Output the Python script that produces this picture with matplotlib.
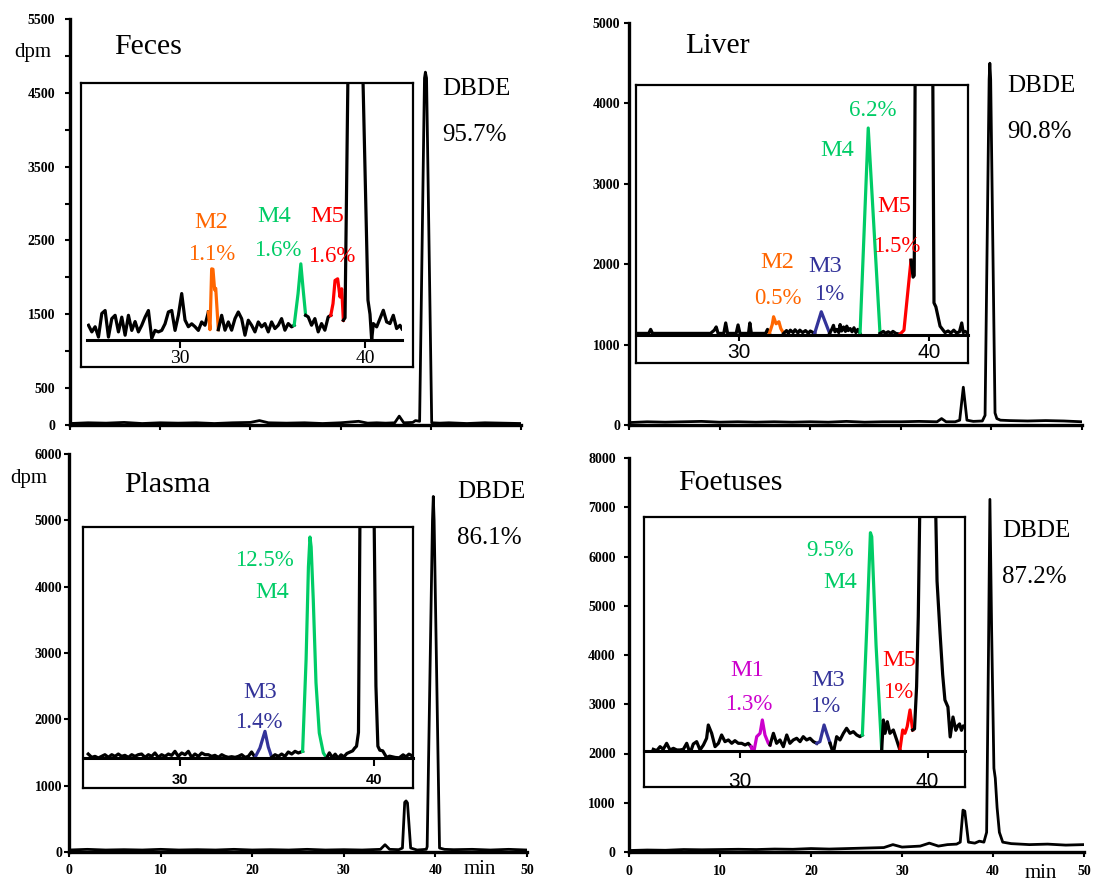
import matplotlib
matplotlib.use('Agg')
import matplotlib.pyplot as plt

W, H = 1094, 881
SERIF = 'Liberation Serif'
SANS = 'Liberation Sans'
ORANGE, GREEN, RED, BLUE, MAGENTA = '#ff6600', '#00cc66', '#ff0000', '#333399', '#cc00cc'

# ---- full chromatograms: time (min) and activity (dpm) ----
feces_t = [0, 2, 4, 6, 8, 10, 12, 14, 16, 18, 20, 21, 22, 24, 26, 28, 30, 31, 32, 33,
           34, 35, 36, 36.5, 37, 38, 38.3, 38.76, 39.3, 39.4, 39.53, 40.1, 41, 42, 44, 46, 48, 50]
feces_dpm = [20, 30, 25, 35, 20, 30, 25, 30, 20, 30, 35, 60, 30, 25, 30, 20, 30, 40, 50, 25,
             30, 25, 30, 120, 30, 35, 60, 50, 4700, 4780, 4700, 30, 25, 30, 20, 30, 25, 20]

liver_t = [0, 2, 4, 6, 8, 10, 12, 14, 16, 18, 20, 22, 24, 26, 28, 30, 32, 34, 34.5, 35,
           36, 36.5, 36.9, 37.3, 38, 39, 39.3, 39.75, 39.83, 39.92, 40.4, 40.6, 41, 42, 44, 46, 48, 50]
liver_dpm = [30, 40, 35, 40, 45, 35, 40, 35, 40, 35, 40, 35, 45, 35, 40, 40, 45, 40, 80, 40,
             40, 60, 470, 60, 45, 50, 120, 4300, 4500, 4300, 150, 80, 60, 55, 50, 55, 50, 40]

plasma_t = [0, 2, 4, 6, 8, 10, 12, 14, 16, 18, 20, 22, 24, 26, 28, 30, 32, 34, 34.5, 35,
            36, 36.4, 36.65, 36.8, 36.95, 37.3, 38, 39, 39.1, 39.68, 39.77, 39.86, 40.45,
            41, 42, 44, 46, 48, 50]
plasma_dpm = [30, 40, 30, 35, 30, 40, 30, 35, 30, 40, 30, 35, 30, 40, 30, 35, 30, 40, 110, 40,
              35, 60, 750, 770, 740, 60, 30, 40, 80, 5000, 5360, 5000, 60,
              40, 35, 40, 30, 40, 30]

foet_t = [0, 2, 4, 6, 8, 10, 12, 14, 16, 18, 20, 22, 24, 26, 28, 29, 30, 31, 32, 33, 34, 35, 36,
          36.4, 36.7, 36.9, 37.3, 38, 38.5, 39.0, 39.3, 39.5, 39.66, 39.85, 40.1, 40.25, 40.45,
          40.7, 41.07, 42, 44, 46, 48, 50]
foet_dpm = [30, 40, 35, 50, 45, 50, 55, 50, 60, 55, 70, 60, 70, 80, 90, 150, 100, 110, 120, 180, 120, 150, 160,
            200, 850, 830, 200, 180, 220, 200, 400, 4000, 7160, 4500, 1700, 1500, 900,
            400, 200, 170, 150, 160, 140, 150]

# ---- enlarged insets (25-42 min), one list per coloured segment ----
fe_k1_t = [25.05, 25.23, 25.41, 25.59, 25.77, 25.95, 26.13, 26.31, 26.49, 26.67, 26.85, 27.03, 27.21,
           27.39, 27.57, 27.75, 27.93, 28.11, 28.29, 28.47, 28.65, 28.83, 29.01, 29.19, 29.37, 29.55,
           29.73, 29.91, 30.09, 30.27, 30.45, 30.63, 30.81, 30.99, 31.17, 31.35, 31.53]
fe_k1_y = [1350, 1260, 1330, 1190, 1510, 1550, 1190, 1440, 1485, 1260, 1460, 1215, 1485,
           1280, 1400, 1260, 1350, 1460, 1550, 1170, 1280, 1260, 1280, 1370, 1530, 1550,
           1280, 1485, 1780, 1420, 1330, 1370, 1330, 1280, 1395, 1350, 1530]
fe_m2_t = [31.53, 31.62, 31.71, 31.78, 31.87, 31.93, 32.07]
fe_m2_y = [1530, 1290, 2115, 2110, 1830, 1850, 1290]
fe_k2_t = [32.07, 32.25, 32.43, 32.61, 32.79, 32.97, 33.15, 33.33, 33.51, 33.69, 33.87, 34.05,
           34.23, 34.41, 34.59, 34.77, 34.95, 35.13, 35.31, 35.49, 35.67, 35.85, 36.03, 36.17]
fe_k2_y = [1290, 1485, 1283, 1395, 1283, 1440, 1530, 1440, 1215, 1418, 1350, 1260,
           1395, 1328, 1373, 1260, 1395, 1305, 1350, 1440, 1283, 1373, 1328, 1350]
fe_m4_t = [36.17, 36.38, 36.53, 36.66, 36.79]
fe_m4_y = [1350, 1778, 2183, 1823, 1485]
fe_k3_t = [36.79, 36.93, 37.11, 37.29, 37.47, 37.65, 37.83, 38.01, 38.15]
fe_k3_y = [1485, 1463, 1350, 1440, 1260, 1373, 1283, 1463, 1485]
fe_m5_t = [38.15, 38.27, 38.38, 38.52, 38.65, 38.74, 38.83]
fe_m5_y = [1485, 1643, 1958, 1980, 1733, 1845, 1418]
fe_k4_t = [38.83, 38.92, 39.08, 39.5, 39.88, 40.16, 40.27, 40.36, 40.45, 40.63, 40.81, 40.99,
           41.17, 41.35, 41.53, 41.71, 41.89, 42.0]
fe_k4_y = [1418, 1450, 4800, 9000, 4800, 1690, 1500, 1150, 1373, 1328, 1440, 1553,
           1395, 1373, 1485, 1305, 1350, 1300]

li_k1_t = [24.7, 25.25, 25.35, 25.45, 27.0, 28.5, 28.7, 28.8, 28.9, 29.2, 29.3, 29.4, 29.85, 29.95,
           30.05, 30.5, 30.57, 30.65, 31.4, 31.5, 31.6]
li_k1_y = [1140, 1140, 1190, 1140, 1140, 1140, 1180, 1220, 1140, 1140, 1270, 1140, 1140, 1245,
           1140, 1140, 1270, 1140, 1140, 1190, 1140]
li_m2_t = [31.6, 31.75, 31.82, 31.95, 32.1, 32.2, 32.35]
li_m2_y = [1140, 1250, 1347, 1260, 1285, 1200, 1140]
li_k2_t = [32.35, 32.5, 32.6, 32.7, 32.85, 32.95, 33.1, 33.2, 33.35, 33.5, 33.65, 33.75, 33.98]
li_k2_y = [1140, 1175, 1140, 1180, 1150, 1185, 1145, 1180, 1150, 1175, 1140, 1170, 1140]
li_m3_t = [33.98, 34.33, 34.77]
li_m3_y = [1140, 1409, 1140]
li_k3_t = [34.77, 34.9, 34.97, 35.05, 35.15, 35.25, 35.32, 35.4, 35.5, 35.6, 35.67, 35.75, 35.85,
           35.95, 36.05, 36.15, 36.25, 36.37]
li_k3_y = [1140, 1200, 1240, 1160, 1190, 1150, 1250, 1170, 1220, 1165, 1230, 1175, 1200,
           1160, 1210, 1150, 1190, 1140]
li_m4_t = [36.37, 36.8, 37.42]
li_m4_y = [1140, 3695, 1140]
li_k4_t = [37.42, 37.6, 37.7, 37.85, 38.0, 38.1, 38.25, 38.47]
li_k4_y = [1140, 1165, 1140, 1160, 1140, 1165, 1140, 1130]
li_m5_t = [38.47, 38.68, 39.05]
li_m5_y = [1130, 1180, 2050]
li_k5_t = [39.05, 39.16, 39.22, 39.3, 39.7, 40.1, 40.2, 40.26, 40.36, 40.58, 40.84, 41.0, 41.15,
           41.3, 41.45, 41.6, 41.72, 41.8, 41.9, 42.05]
li_k5_y = [2050, 1840, 1860, 6000, 9000, 6500, 4230, 1520, 1470, 1230, 1150, 1170, 1145,
           1180, 1145, 1160, 1270, 1150, 1165, 1140]

pl_k1_t = [25.27, 25.45, 25.62, 25.79, 25.96, 26.13, 26.31, 26.48, 26.65, 26.82, 26.99, 27.16, 27.34,
           27.51, 27.68, 27.85, 28.02, 28.2, 28.37, 28.54, 28.71, 28.88, 29.05, 29.23, 29.4, 29.57,
           29.74, 29.91, 30.09, 30.26, 30.43, 30.6, 30.77, 30.95, 31.12, 31.29, 31.46, 31.63, 31.8,
           31.98, 32.15, 32.32, 32.49, 32.66, 32.84, 33.01, 33.18, 33.35, 33.52, 33.69, 33.87]
pl_k1_y = [1472, 1422, 1437, 1412, 1437, 1462, 1422, 1462, 1437, 1472, 1437, 1452, 1422,
           1462, 1437, 1462, 1472, 1422, 1462, 1437, 1488, 1422, 1462, 1437, 1472, 1452,
           1513, 1437, 1488, 1462, 1513, 1422, 1472, 1437, 1488, 1462, 1462, 1437, 1452,
           1422, 1462, 1437, 1422, 1432, 1422, 1437, 1462, 1422, 1437, 1503, 1422]
pl_m3_t = [33.87, 34.12, 34.38, 34.55, 34.73]
pl_m3_y = [1422, 1563, 1815, 1580, 1422]
pl_k2_t = [34.73, 34.9, 35.07, 35.24, 35.41, 35.58, 35.76, 35.93, 36.1, 36.32]
pl_k2_y = [1422, 1462, 1437, 1472, 1437, 1503, 1472, 1513, 1488, 1513]
pl_m4_t = [36.32, 36.5, 36.62, 36.7, 36.76, 36.87, 37.01, 37.18, 37.39, 37.56]
pl_m4_y = [1512, 2900, 4300, 4750, 4600, 3800, 2548, 1790, 1488, 1413]
pl_k3_t = [37.56, 37.7, 37.85, 38.0, 38.15, 38.3, 38.45, 38.6, 38.75, 38.9, 39.0, 39.1, 39.2, 39.28,
           39.65, 40.0, 40.1, 40.2, 40.3, 40.45, 40.65, 40.8, 40.95, 41.1, 41.3, 41.5, 41.65, 41.8, 42.0]
pl_k3_y = [1413, 1490, 1420, 1470, 1410, 1460, 1430, 1480, 1500, 1520, 1560, 1590, 1800, 5200,
           9000, 5200, 2500, 1590, 1530, 1520, 1420, 1440, 1430, 1420, 1415, 1460, 1430, 1470, 1440]

fo_k1_t = [25.38, 25.56, 25.74, 25.91, 26.09, 26.27, 26.45, 26.63, 26.8, 26.98, 27.16, 27.34, 27.51,
           27.69, 27.87, 28.05, 28.22, 28.31, 28.49, 28.67, 28.85, 29.02, 29.2, 29.38, 29.56, 29.73,
           29.91, 30.09, 30.27, 30.44, 30.59]
fo_k1_y = [2084, 2057, 2138, 2084, 2206, 2071, 2104, 2071, 2071, 2084, 2206, 2003, 2192,
           2240, 2071, 2172, 2308, 2578, 2409, 2138, 2206, 2375, 2240, 2274, 2206, 2260,
           2206, 2206, 2172, 2206, 2138]
fo_m1_t = [30.59, 30.71, 30.89, 31.07, 31.19, 31.33, 31.51, 31.6]
fo_m1_y = [2138, 1980, 2341, 2409, 2680, 2375, 2206, 2172]
fo_k2_t = [31.6, 31.78, 31.95, 32.13, 32.31, 32.49, 32.66, 32.84, 33.02, 33.2, 33.37, 33.55, 33.73,
           33.91, 34.09]
fo_k2_y = [2172, 2409, 2206, 2274, 2138, 2375, 2206, 2274, 2308, 2240, 2341, 2274, 2308,
           2240, 2206]
fo_m3_t = [34.09, 34.26, 34.48, 34.62, 34.8]
fo_m3_y = [2206, 2240, 2578, 2409, 2206]
fo_k3_t = [34.8, 34.97, 35.15, 35.33, 35.51, 35.68, 35.86, 36.04, 36.22, 36.39, 36.52]
fo_k3_y = [2206, 2003, 2341, 2274, 2409, 2511, 2409, 2443, 2375, 2341, 2375]
fo_m4_t = [36.52, 36.75, 36.95, 37.02, 37.25, 37.55]
fo_m4_y = [2375, 4500, 6482, 6400, 4200, 2070]
fo_k4_t = [37.55, 37.64, 37.73, 37.85, 37.99, 38.17, 38.35, 38.52]
fo_k4_y = [2070, 2680, 2409, 2645, 2409, 2477, 2274, 2071]
fo_m5_t = [38.52, 38.67, 38.79, 38.91, 39.06, 39.2]
fo_m5_y = [2071, 2477, 2409, 2545, 2883, 2477]
fo_k5_t = [39.2, 39.3, 39.41, 39.5, 39.6, 40.0, 40.4, 40.5, 40.66, 40.8, 40.92, 41.08, 41.2,
           41.35, 41.5, 41.6, 41.7, 41.8, 41.9, 42.0]
fo_k5_y = [2477, 2500, 3356, 4777, 7500, 12000, 7500, 5500, 4445, 3600, 3086, 2944, 2335,
           2740, 2470, 2560, 2600, 2470, 2560, 2540]

fig = plt.figure(figsize=(W / 100, H / 100), dpi=100)


def rect(l, t, r, b):
    return [l / W, 1 - b / H, (r - l) / W, (b - t) / H]


def label(x, y, s, size, color='black'):
    fig.text(x / W, 1 - y / H, s, fontsize=size, color=color, ha='left', va='center', family=SERIF)


def main_panel(box, times, dpm, ymax, ystep, ylabels, ypad, xlabels, xpad):
    ax = fig.add_axes(rect(*box))
    ax.plot(times, dpm, color='black', lw=2.0)
    ax.set_xlim(0, 50)
    ax.set_ylim(0, ymax)
    ax.spines[['top', 'right']].set_visible(False)
    ax.spines[['left', 'bottom']].set_linewidth(2.4)
    ax.set_yticks(range(0, ymax + 1, ystep), ylabels)
    ax.set_xticks(range(0, 51, 10), xlabels)
    ax.tick_params(axis='both', direction='out', length=3.5, width=1.5, labelsize=10)
    ax.tick_params(axis='y', pad=ypad)
    ax.tick_params(axis='x', pad=xpad)
    for lab in ax.get_xticklabels() + ax.get_yticklabels():
        lab.set_fontfamily(SERIF)
        lab.set_fontweight('bold')
    ax.patch.set_visible(False)
    return ax


def inset(box, inner, xlim, ylim, segments, font, size, weight, tlen, tpad):
    bx = fig.add_axes(rect(*box))
    bx.set_xticks([])
    bx.set_yticks([])
    for s in bx.spines.values():
        s.set_linewidth(1.6)
    ix = fig.add_axes(rect(*inner))
    ix.patch.set_visible(False)
    for times, vals, color in segments:
        ix.plot(times, vals, color=color, lw=2.3)
    ix.set_xlim(*xlim)
    ix.set_ylim(*ylim)
    ix.spines[['left', 'top', 'right']].set_visible(False)
    ix.spines['bottom'].set_linewidth(2.2)
    ix.set_yticks([])
    ix.set_xticks([30, 40], ['30', '40'])
    ix.tick_params(axis='x', direction='out', length=tlen, width=1.5, pad=tpad, labelsize=size)
    for lab in ix.get_xticklabels():
        lab.set_fontfamily(font)
        lab.set_fontweight(weight)


no_x = [''] * 6
with_x = ['0', '10', '20', '30', '40', '50']

# Feces
main_panel((70, 19, 521, 425), feces_t, feces_dpm, 5500, 500,
           ['0', '500', '', '1500', '', '2500', '', '3500', '', '4500', '', '5500'], 7, no_x, 4)
inset((81, 82.7, 413, 367), (87, 82.7, 402, 340), (24.97, 42.0), (1150, 4640),
      [(fe_k1_t, fe_k1_y, 'black'), (fe_m2_t, fe_m2_y, ORANGE), (fe_k2_t, fe_k2_y, 'black'),
       (fe_m4_t, fe_m4_y, GREEN), (fe_k3_t, fe_k3_y, 'black'), (fe_m5_t, fe_m5_y, RED),
       (fe_k4_t, fe_k4_y, 'black')], SERIF, 14, 'normal', 6, 1)
label(114, 47, 'Feces', 21.5)
label(14, 52, 'dpm', 15)
label(442, 89, 'DBDE', 18)
label(442, 135, '95.7%', 18)
label(194, 222, 'M2', 17.5, ORANGE)
label(188, 254, '1.1%', 16.5, ORANGE)
label(257, 216, 'M4', 17.5, GREEN)
label(254, 250, '1.6%', 16.5, GREEN)
label(310, 216, 'M5', 17.5, RED)
label(308, 256, '1.6%', 16.5, RED)

# Liver
main_panel((629, 23, 1082, 425), liver_t, liver_dpm, 5000, 1000,
           ['0', '1000', '2000', '3000', '4000', '5000'], 3, no_x, 4)
inset((636, 85, 968, 363), (636, 85, 968, 335), (24.58, 42.05), (1120, 4230),
      [(li_k1_t, li_k1_y, 'black'), (li_m2_t, li_m2_y, ORANGE), (li_k2_t, li_k2_y, 'black'),
       (li_m3_t, li_m3_y, BLUE), (li_k3_t, li_k3_y, 'black'), (li_m4_t, li_m4_y, GREEN),
       (li_k4_t, li_k4_y, 'black'), (li_m5_t, li_m5_y, RED), (li_k5_t, li_k5_y, 'black')],
      SANS, 15, 'normal', 4, 2)
label(685, 46, 'Liver', 21.5)
label(1007, 86, 'DBDE', 18)
label(1007, 132, '90.8%', 18)
label(849, 110, '6.2%', 16.5, GREEN)
label(820, 151, 'M4', 17.5, GREEN)
label(877, 207, 'M5', 17.5, RED)
label(873, 247, '1.5%', 16.5, RED)
label(760, 263, 'M2', 17.5, ORANGE)
label(754, 298, '0.5%', 16.5, ORANGE)
label(808, 266, 'M3', 17.5, BLUE)
label(814, 295, '1%', 16.5, BLUE)

# Plasma
main_panel((69, 454, 527, 852), plasma_t, plasma_dpm, 6000, 1000,
           ['0', '1000', '2000', '3000', '4000', '5000', '6000'], 1.5, with_x, 5)
inset((83, 526.7, 412.6, 788.3), (83, 526.7, 412.6, 758), (25.0, 41.99), (1412, 4906),
      [(pl_k1_t, pl_k1_y, 'black'), (pl_m3_t, pl_m3_y, BLUE), (pl_k2_t, pl_k2_y, 'black'),
       (pl_m4_t, pl_m4_y, GREEN), (pl_k3_t, pl_k3_y, 'black')], SANS, 10.5, 'bold', 6, 5)
label(10, 478, 'dpm', 15)
label(124, 485, 'Plasma', 21.5)
label(457, 492, 'DBDE', 18)
label(457, 538, '86.1%', 18)
label(235, 561, '12.5%', 16.5, GREEN)
label(255, 593, 'M4', 17.5, GREEN)
label(243, 693, 'M3', 17.5, BLUE)
label(235, 722, '1.4%', 16.5, BLUE)
label(464, 870, 'min', 15)

# Foetuses
main_panel((629, 458, 1084, 852), foet_t, foet_dpm, 8000, 1000,
           ['0', '1000', '2000', '3000', '4000', '5000', '6000', '7000', '8000'], 6, with_x, 6)
inset((644.3, 516.7, 965, 786.7), (644.3, 516.7, 965, 750.7), (24.9, 41.99), (2056, 6807),
      [(fo_k1_t, fo_k1_y, 'black'), (fo_m1_t, fo_m1_y, MAGENTA), (fo_k2_t, fo_k2_y, 'black'),
       (fo_m3_t, fo_m3_y, BLUE), (fo_k3_t, fo_k3_y, 'black'), (fo_m4_t, fo_m4_y, GREEN),
       (fo_k4_t, fo_k4_y, 'black'), (fo_m5_t, fo_m5_y, RED), (fo_k5_t, fo_k5_y, 'black')],
      SANS, 15, 'normal', 5, 10)
label(678, 483, 'Foetuses', 21.5)
label(1002, 531, 'DBDE', 18)
label(1002, 577, '87.2%', 18)
label(806, 551, '9.5%', 16.5, GREEN)
label(823, 582, 'M4', 17.5, GREEN)
label(730, 670, 'M1', 17.5, MAGENTA)
label(725, 705, '1.3%', 16.5, MAGENTA)
label(811, 681, 'M3', 17.5, BLUE)
label(810, 707, '1%', 16.5, BLUE)
label(882, 661, 'M5', 17.5, RED)
label(883, 692, '1%', 16.5, RED)
label(1025, 873, 'min', 15)

fig.savefig('out.png', dpi=100)
